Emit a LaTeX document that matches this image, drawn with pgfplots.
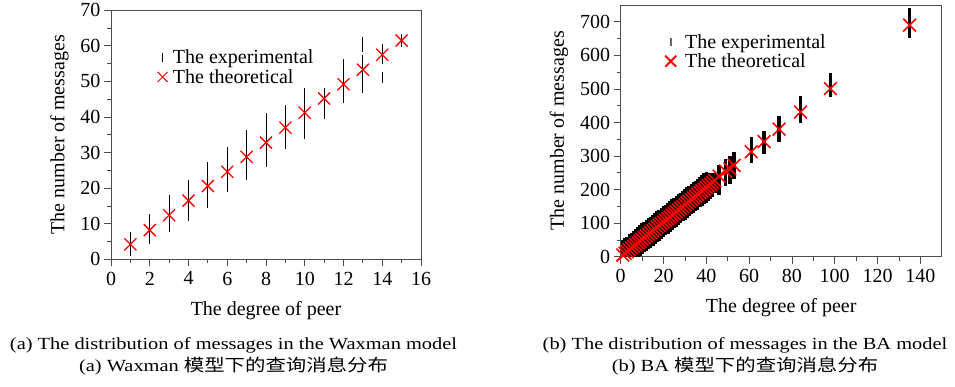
\documentclass[border=0pt]{standalone}
\usepackage{pgfplots}
\pgfplotsset{compat=1.18}
\usepackage{pgfplotstable}
\usepackage{fontspec}
\setmainfont{Liberation Serif}
\newfontfamily\cjk{Noto Sans CJK SC}

% Waxman: theoretical
\pgfplotstableread{
x t
1 4.2
2 8.2
3 12.4
4 16.5
5 20.6
6 24.6
7 28.8
8 32.8
9 37.0
10 41.2
11 45.2
12 49.2
13 53.3
14 57.5
15 61.5
}\waxtheo
% Waxman: experimental bars (centre m, half length e)
\pgfplotstableread{
x m e
1 4.3 3.3
2 8.6 4.2
3 12.9 5.1
4 16.6 5.7
5 20.9 6.5
6 25.3 6.3
7 29.3 7.0
8 33.6 7.6
9 37.1 6.2
10 40.9 7.2
11 43.75 4.35
12 50.2 6.2
13 52.15 5.35
13 60.4 2.1
14 51.15 1.45
14 57.7 2.7
15 61.55 1.85
}\waxexp

% BA: theoretical
\pgfplotstableread{
x t
1 5
2 10
3 15
4 21
5 26
6 31
7 36
8 41
9 46
10 52
11 57
12 62
13 67
14 72
15 77
16 82
17 88
18 93
19 98
20 103
21 108
22 113
23 118
24 124
25 129
26 134
27 139
28 144
29 149
30 155
31 160
32 165
33 170
34 175
35 180
36 185
37 191
38 196
39 201
40 206
41 211
42 216
43 221
44 227
46 240
49 255
51 262
53 272
61 313
67 343
74 380
84 431
98 501
135 690
}\batheo
% BA: experimental bars (centre m, half length e)
\pgfplotstableread{
x m e
1 0 33
1 14 35
2 3 34
2 19 36
3 8 35
3 24 36
4 13 35
4 30 37
5 18 36
5 35 37
6 23 36
6 40 38
7 28 36
7 45 38
8 33 37
8 50 38
9 38 36
9 55 38
10 44 37
10 61 38
11 49 36
11 66 38
12 54 37
12 71 38
13 59 36
13 76 38
14 64 37
14 81 38
15 69 36
15 86 38
16 74 37
16 91 38
17 80 36
17 97 38
18 85 37
18 102 38
19 90 36
19 107 38
20 95 37
20 112 38
21 100 36
21 117 38
22 105 37
22 122 38
23 110 36
23 127 38
24 116 37
24 133 38
25 121 36
25 138 38
26 126 37
26 143 38
27 131 36
27 148 38
28 136 37
28 153 38
29 141 36
29 158 38
30 147 37
30 164 38
31 152 36
31 169 38
32 157 37
32 174 38
33 162 36
33 179 38
34 167 37
34 184 38
35 172 36
35 189 38
36 177 37
36 194 38
37 183 36
37 200 38
38 188 37
38 205 38
39 193 36
39 210 38
40 198 37
40 215 38
41 203 36
41 220 28
42 208 37
42 226 24
43 213 36
43 232 16
44 219 30
44 236 14
46 228.5 43.5
49 250 40
51 259 41
53 272 40
61 317 39
67 340.5 34.5
74 381.5 38.5
84 439.5 40.5
98 510.5 35.5
135 696.5 43.5
}\baexp

\pgfplotsset{
  common/.style={
    scale only axis,
    anchor=south west,
    axis line style={black!70, line width=0.8pt},
    tick style={black!70, line width=0.8pt},
    tick align=outside,
    xtick pos=bottom, ytick pos=left,
    major tick length=7pt, minor tick length=4pt,
    minor x tick num=1, minor y tick num=1,
    /pgf/number format/assume math mode=true,
    tick label style={font=\fontsize{20}{24}\selectfont},
    xticklabel style={yshift=-2pt},
    label style={font=\fontsize{20}{24}\selectfont},
    xlabel={The degree of peer},
    ylabel={The number of messages},
    xlabel style={yshift=-9pt},
    ylabel style={yshift=5pt},
    legend cell align=left,
  },
  expbar/.style={only marks, mark=*, mark size=0pt, mark options={draw=none, fill=none}},
}

\begin{document}
\begin{tikzpicture}
\begin{axis}[common,
  at={(111pt,126.7pt)}, width=310pt, height=249pt,
  xmin=0, xmax=16, ymin=0, ymax=70,
  xtick={0,2,...,16}, ytick={0,10,...,70},
  legend style={at={(0.148,0.85)}, anchor=north west, draw=none, fill=none,
    font=\fontsize{20}{22}\selectfont, inner sep=0pt, row sep=0pt, column sep=3pt},
]
\addplot[black, expbar,
  legend image code/.code={\path[draw=none, fill=none] (-5pt,-6pt) rectangle (5pt,6pt);
    \draw[black, line width=0.9pt] (0pt,-4.5pt) -- (0pt,4.5pt);},
  error bars/.cd, y dir=both, y explicit, error mark=none,
  error bar style={black, line width=1pt}]
  table[x=x, y=m, y error=e] {\waxexp};
\addlegendentry{The experimental}
\addplot[red, only marks, mark=x, mark size=8.5pt, mark options={line width=1.3pt},
  legend image code/.code={\path[draw=none, fill=none] (-5pt,-6pt) rectangle (5pt,6pt);
    \draw[red, line width=0.9pt] (-5pt,-5pt) -- (5pt,5pt) (-5pt,5pt) -- (5pt,-5pt);}]
  table[x=x, y=t] {\waxtheo};
\addlegendentry{The theoretical}
\end{axis}

\begin{axis}[common,
  at={(620.7pt,129.3pt)}, width=321pt, height=251.7pt,
  xmin=0, xmax=150, ymin=0, ymax=750,
  xtick={0,20,...,140}, ytick={0,100,...,700},
  legend style={at={(0.135,0.893)}, anchor=north west, draw=none, fill=none,
    font=\fontsize{20}{22}\selectfont, inner sep=0pt, row sep=0pt, column sep=6pt},
]
\addplot[black, expbar,
  legend image code/.code={\path[draw=none, fill=none] (-5pt,-6pt) rectangle (5pt,6pt);
    \draw[black!60, line width=1.6pt] (0pt,-4pt) -- (0pt,4pt);},
  error bars/.cd, y dir=both, y explicit, error mark=none,
  error bar style={black, line width=3.5pt}]
  table[x=x, y=m, y error=e] {\baexp};
\addlegendentry{The experimental}
\addplot[red, only marks, mark=x, mark size=9pt, mark options={line width=1.6pt},
  legend image code/.code={\path[draw=none, fill=none] (-5pt,-6pt) rectangle (5pt,6pt);
    \draw[red, line width=2pt] (-5.5pt,-5.5pt) -- (5.5pt,5.5pt) (-5.5pt,5.5pt) -- (5.5pt,-5.5pt);}]
  table[x=x, y=t] {\batheo};
\addlegendentry{The theoretical}
\end{axis}

\node[inner sep=0pt] at (233.5pt,40.5pt) {\scalebox{1.2}[1]{\fontsize{17}{20}\selectfont (a) The distribution of messages in the Waxman model}};
\node[inner sep=0pt] at (233.5pt,20pt) {\scalebox{1.2}[1]{\fontsize{17}{20}\selectfont (a) Waxman {\cjk 模型下的查询消息分布}}};
\node[inner sep=0pt] at (745pt,40.5pt) {\scalebox{1.2}[1]{\fontsize{17}{20}\selectfont (b) The distribution of messages in the BA model}};
\node[inner sep=0pt] at (745pt,20pt) {\scalebox{1.2}[1]{\fontsize{17}{20}\selectfont (b) BA {\cjk 模型下的查询消息分布}}};

\pgfresetboundingbox
\path[use as bounding box] (0,0) rectangle (955pt,386pt);
\end{tikzpicture}
\end{document}
